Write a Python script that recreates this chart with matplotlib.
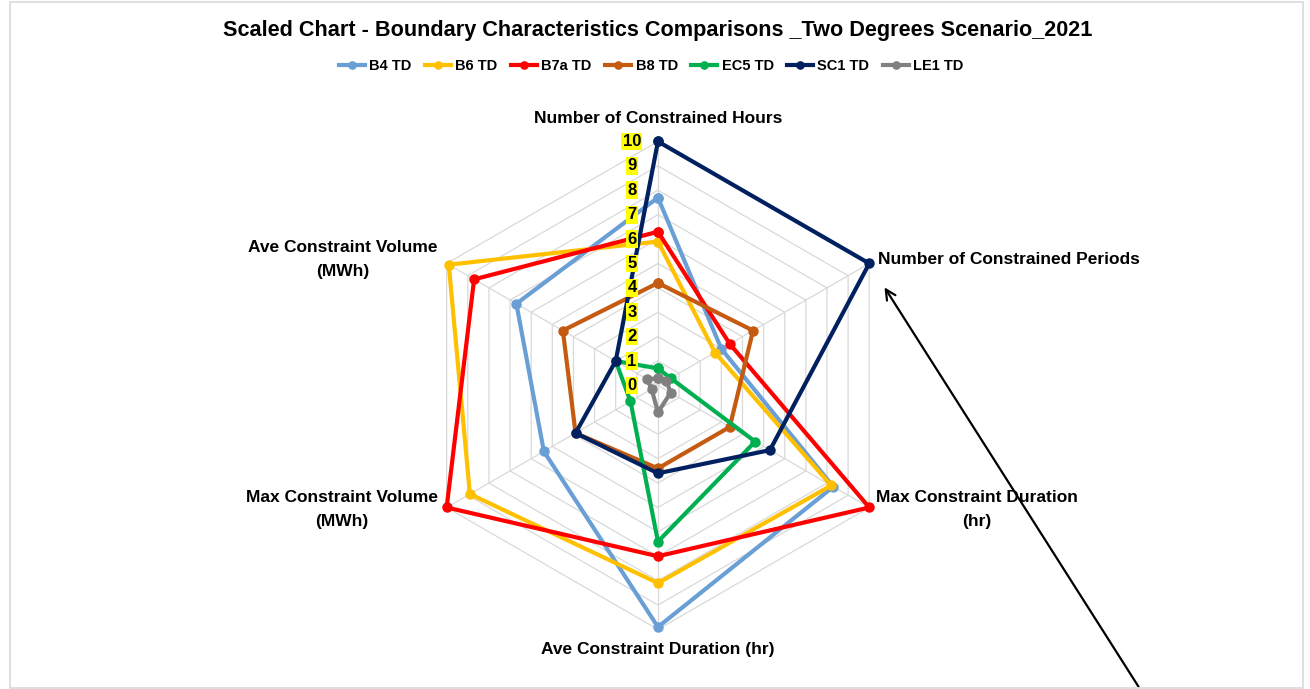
import matplotlib
matplotlib.use('Agg')
import matplotlib.pyplot as plt
import numpy as np
from matplotlib.patches import Rectangle

plt.rcParams['font.family'] = ['Liberation Sans', 'DejaVu Sans']
plt.rcParams['font.weight'] = 'bold'

# data (scaled 0-10)
categories = ['Number of Constrained Hours', 'Number of Constrained Periods',
              'Max Constraint Duration\n(hr)', 'Ave Constraint Duration (hr)',
              'Max Constraint Volume\n(MWh)', 'Ave Constraint Volume\n(MWh)']
series_names = ['B4 TD', 'B6 TD', 'B7a TD', 'B8 TD', 'EC5 TD', 'SC1 TD', 'LE1 TD']
b4  = [7.7, 3.0, 8.3, 9.9, 5.4, 6.7]
b6  = [5.9, 2.7, 8.2, 8.1, 8.9, 9.9]
b7a = [6.3, 3.4, 10.0, 7.0, 10.0, 8.7]
b8  = [4.2, 4.5, 3.4, 3.4, 3.9, 4.5]
ec5 = [0.7, 0.6, 4.6, 6.4, 1.3, 2.0]
sc1 = [10.0, 10.0, 5.3, 3.6, 3.9, 2.0]
le1 = [0.3, 0.4, 0.6, 1.1, 0.3, 0.5]
colors = ['#6A9FD6', '#FFC000', '#FF0000', '#C55A11', '#00B050', '#002060', '#808080']
rticks = list(range(0, 11))

all_series = [b4, b6, b7a, b8, ec5, sc1, le1]

fig = plt.figure(figsize=(13.1, 6.89), dpi=100)
ax = fig.add_axes([0.3160, 0.0864, 0.3725, 0.7083], projection='polar')
ax.set_theta_offset(np.pi / 2)
ax.set_theta_direction(-1)

angles = np.linspace(0, 2 * np.pi, len(categories), endpoint=False)
closed = np.append(angles, angles[0])

# hexagonal grid + spokes
for k in rticks[1:]:
    ax.plot(closed, [k] * len(closed), color='#D9D9D9', lw=0.9, zorder=1, clip_on=False)
for a in angles:
    ax.plot([a, a], [0, rticks[-1]], color='#D9D9D9', lw=0.9, zorder=1, clip_on=False)

for name, vals, c in zip(series_names, all_series, colors):
    ax.plot(closed, vals + vals[:1], '-o', color=c, lw=3, ms=6.5,
            label=name, zorder=3, clip_on=False)

ax.set_ylim(0, 10)
ax.set_xticks([])
ax.set_yticks([])
ax.grid(False)
ax.spines['polar'].set_visible(False)
ax.patch.set_alpha(0)

# radial tick labels with yellow highlight
for k in rticks:
    ax.annotate(str(k), xy=(0, k), xytext=(-26, 0), textcoords='offset pixels',
                ha='center', va='center', fontsize=12, fontweight='bold',
                bbox=dict(boxstyle='square,pad=0.08', facecolor='#FFFF00', edgecolor='none'),
                zorder=5)

# category labels
offsets = [(0, 23, 'center', 'center'), (9, 4, 'left', 'center'),
           (108, 17, 'center', 'top'), (0, -20, 'center', 'center'),
           (-105, 17, 'center', 'top'), (-104, 23, 'center', 'top')]
for a, lab, (dx, dy, ha, va) in zip(angles, categories, offsets):
    ax.annotate(lab, xy=(a, 10), xytext=(dx, dy), textcoords='offset pixels',
                ha=ha, va=va, multialignment='center', fontsize=12.5,
                fontweight='bold', linespacing=1.7, annotation_clip=False)

fig.suptitle('Scaled Chart - Boundary Characteristics Comparisons _Two Degrees Scenario_2021',
             x=0.502, y=0.971, fontsize=15.6, fontweight='bold')
fig.legend(loc='center', bbox_to_anchor=(0.497, 0.904), ncol=7, frameon=False,
           fontsize=10.5, handlelength=1.8, handletextpad=0.3, columnspacing=0.9,
           markerscale=0.8)

# chart border
fig.add_artist(Rectangle((10 / 1310, 1 / 689), 1293 / 1310, 686 / 689,
                         transform=fig.transFigure, fill=False,
                         edgecolor='#D9D9D9', lw=1.2))

# arrow
ax.annotate('', xy=(883, 689 - 285), xycoords='figure pixels',
            xytext=(1140, 0), textcoords='figure pixels',
            arrowprops=dict(arrowstyle='->', color='black', lw=1.6, mutation_scale=18),
            annotation_clip=False)

fig.savefig('out.png', dpi=100)
plt.close(fig)
